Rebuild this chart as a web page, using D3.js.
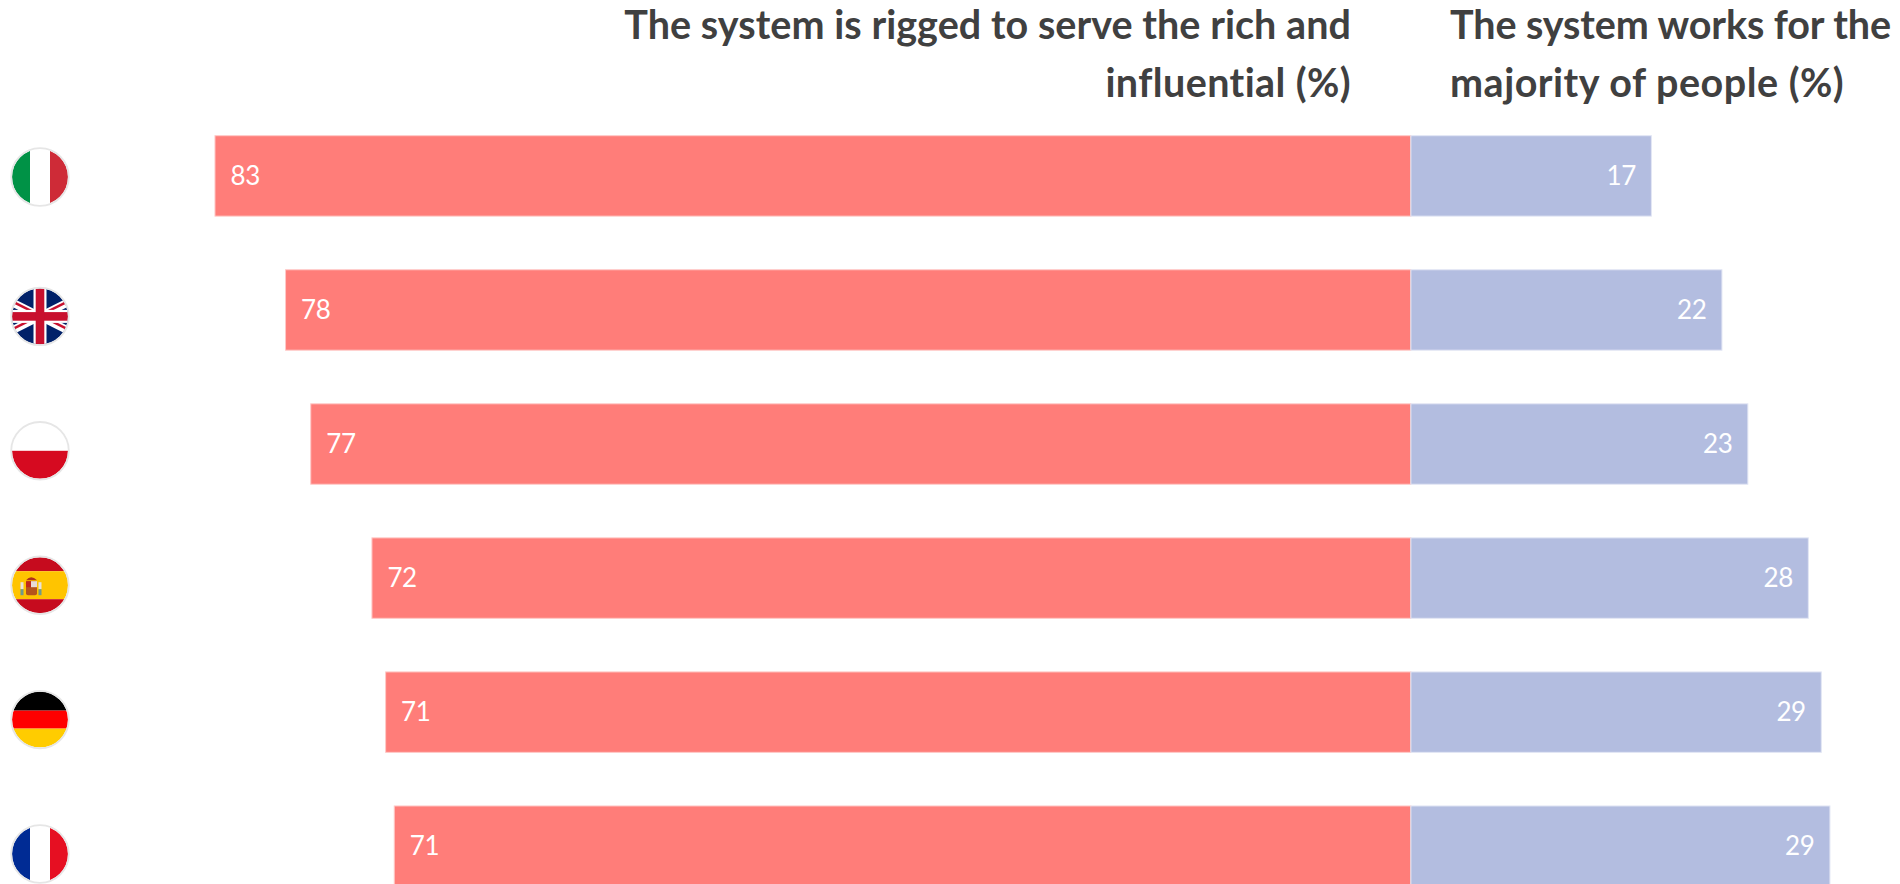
<!DOCTYPE html>
<html>
<head>
<meta charset="utf-8">
<script src="https://cdn.jsdelivr.net/npm/d3@7"></script>
<style>
  html, body { margin: 0; padding: 0; background: #fff; overflow: hidden; }
  text { font-family: Lato, "Open Sans", sans-serif; }
</style>
</head>
<body>
<svg id="chart"></svg>
<script>
var width = 1900, height = 884;

var countries = ['Italy', 'UK', 'Poland', 'Spain', 'Germany', 'France'];
// bar lengths, labels as printed
var riggedValues = [83.05, 78.15, 76.4, 72.15, 71.2, 70.6];
var worksValues = [16.7, 21.6, 23.4, 27.6, 28.5, 29.1];
var riggedLabels = ['83', '78', '77', '72', '71', '71'];
var worksLabels = ['17', '22', '23', '28', '29', '29'];
var riggedTitle = ['The system is rigged to serve the rich and', 'influential (%)'];
var worksTitle = ['The system works for the', 'majority of people (%)'];

var svg = d3.select('#chart').attr('width', width).attr('height', height);
var defs = svg.append('defs');

// 14.4px per percentage point, zero at the middle line
var x = d3.scaleLinear().domain([-100, 100]).range([-29.1, 2850.9]);
var y = d3.scaleBand().domain(countries).range([135.7, 886.4]).paddingInner(0.4).paddingOuter(0);
// flags sit on a slightly wider step than the bars
var flagY = d3.scalePoint().domain(countries).range([182, 854]);

// Bars
var rows = svg.selectAll('.row')
    .data(countries)
    .enter()
    .append('g')
    .attr('class', 'row');

rows.append('rect')
    .attr('x', (d, i) => x(-riggedValues[i]))
    .attr('y', d => y(d))
    .attr('width', (d, i) => x(0) - x(-riggedValues[i]))
    .attr('height', y.bandwidth())
    .attr('fill', '#ff7d79')
    .attr('stroke', '#ffc9c7')
    .attr('stroke-width', 1);

rows.append('rect')
    .attr('x', x(0))
    .attr('y', d => y(d))
    .attr('width', (d, i) => x(worksValues[i]) - x(0))
    .attr('height', y.bandwidth())
    .attr('fill', '#b3bde0')
    .attr('stroke', '#e2e6f4')
    .attr('stroke-width', 1);

// Value labels
rows.append('text')
    .attr('x', (d, i) => x(-riggedValues[i]) + 15.5)
    .attr('y', d => y(d) + y.bandwidth() / 2 + 9)
    .attr('fill', '#fff')
    .style('font-size', '26px')
    .style('letter-spacing', '-0.4px')
    .text((d, i) => riggedLabels[i]);

rows.append('text')
    .attr('x', (d, i) => x(worksValues[i]) - 15.5)
    .attr('y', d => y(d) + y.bandwidth() / 2 + 9)
    .attr('text-anchor', 'end')
    .attr('fill', '#fff')
    .style('font-size', '26px')
    .style('letter-spacing', '-0.4px')
    .text((d, i) => worksLabels[i]);

// Column titles, spacing per line so the widths follow the original font
function addTitle(lines, xPos, anchor, spacing) {
    svg.append('g').selectAll('text')
        .data(lines)
        .enter()
        .append('text')
        .attr('x', xPos)
        .attr('y', (d, i) => 39 + i * 58)
        .attr('text-anchor', anchor)
        .attr('fill', '#404040')
        .style('font-size', '39.5px')
        .style('font-weight', 700)
        .style('letter-spacing', (d, i) => spacing[i])
        .text(d => d);
}
addTitle(riggedTitle, 1351, 'end', ['0.05px', '0.4px']);
addTitle(worksTitle, 1450, 'start', ['-0.1px', '0.5px']);

// Flags, drawn in a 56px box centred on the circle
var r = 28;
defs.append('clipPath').attr('id', 'flagClip').append('circle').attr('r', r);

var flags = svg.selectAll('.flag')
    .data(countries)
    .enter()
    .append('g')
    .attr('class', 'flag')
    // the top flag is placed a little higher than the even step of the others
    .attr('transform', d => `translate(40,${flagY(d) - (d === 'Italy' ? 5 : 0)})`);

var flagBody = flags.append('g').attr('clip-path', 'url(#flagClip)');
flagBody.append('rect').attr('x', -r).attr('y', -r).attr('width', 2 * r).attr('height', 2 * r).attr('fill', '#fff');

function stripes(country, colors, vertical, sizes) {
    var g = flagBody.filter(d => d === country);
    var pos = -r;
    colors.forEach((c, i) => {
        var s = sizes[i];
        g.append('rect')
            .attr('x', vertical ? pos : -r)
            .attr('y', vertical ? -r : pos)
            .attr('width', vertical ? s : 2 * r)
            .attr('height', vertical ? 2 * r : s)
            .attr('fill', c);
        pos += s;
    });
}
stripes('Italy', ['#009246', '#fff', '#ce2b37'], true, [18, 20, 18]);
stripes('France', ['#002b94', '#fff', '#e60f22'], true, [18, 20, 18]);
stripes('Poland', ['#fff', '#d60a20'], false, [28, 28]);
stripes('Germany', ['#000', '#f00', '#ffcc00'], false, [19, 18, 19]);
stripes('Spain', ['#c60b1e', '#ffc400', '#c60b1e'], false, [14, 28, 14]);

// Union flag
var uk = flagBody.filter(d => d === 'UK');
uk.append('rect').attr('x', -r).attr('y', -r).attr('width', 2 * r).attr('height', 2 * r).attr('fill', '#012169');
[1, -1].forEach(s => {
    uk.append('line').attr('x1', -r * s).attr('y1', -r * 0.5).attr('x2', r * s).attr('y2', r * 0.5)
        .attr('stroke', '#fff').attr('stroke-width', 8);
    uk.append('line').attr('x1', -r * s).attr('y1', -r * 0.5 - 1).attr('x2', r * s).attr('y2', r * 0.5 - 1)
        .attr('stroke', '#c8102e').attr('stroke-width', 2.5);
});
uk.append('rect').attr('x', -r).attr('y', -6.5).attr('width', 2 * r).attr('height', 13).attr('fill', '#fff');
uk.append('rect').attr('x', -6.5).attr('y', -r).attr('width', 13).attr('height', 2 * r).attr('fill', '#fff');
uk.append('rect').attr('x', -r).attr('y', -4.3).attr('width', 2 * r).attr('height', 8.6).attr('fill', '#c8102e');
uk.append('rect').attr('x', -4.3).attr('y', -r).attr('width', 8.6).attr('height', 2 * r).attr('fill', '#c8102e');

// Spanish coat of arms, small enough that a rough version reads right
var arms = flagBody.filter(d => d === 'Spain').append('g').attr('transform', 'translate(-9,2)');
arms.append('rect').attr('x', -5).attr('y', -6).attr('width', 11).attr('height', 14).attr('rx', 2).attr('fill', '#b5541c');
arms.append('rect').attr('x', 0).attr('y', -6).attr('width', 6).attr('height', 6).attr('fill', '#e8dcd8');
arms.append('rect').attr('x', -5).attr('y', -6).attr('width', 5).attr('height', 6).attr('fill', '#c0281c');
arms.append('path').attr('d', 'M-5,-7 Q0,-13 6,-7 Z').attr('fill', '#b0301c');
[-9, 9].forEach(px => {
    arms.append('rect').attr('x', px - 1.5).attr('y', -5).attr('width', 3).attr('height', 7).attr('fill', '#e8e2dc');
    arms.append('rect').attr('x', px - 1.5).attr('y', 2).attr('width', 3).attr('height', 6).attr('fill', '#6f9a8c');
});

// Grey ring round each flag
flags.append('circle')
    .attr('r', r + 0.8)
    .attr('fill', 'none')
    .attr('stroke', '#e6e6e6')
    .attr('stroke-width', 1.8);
</script>
</body>
</html>
